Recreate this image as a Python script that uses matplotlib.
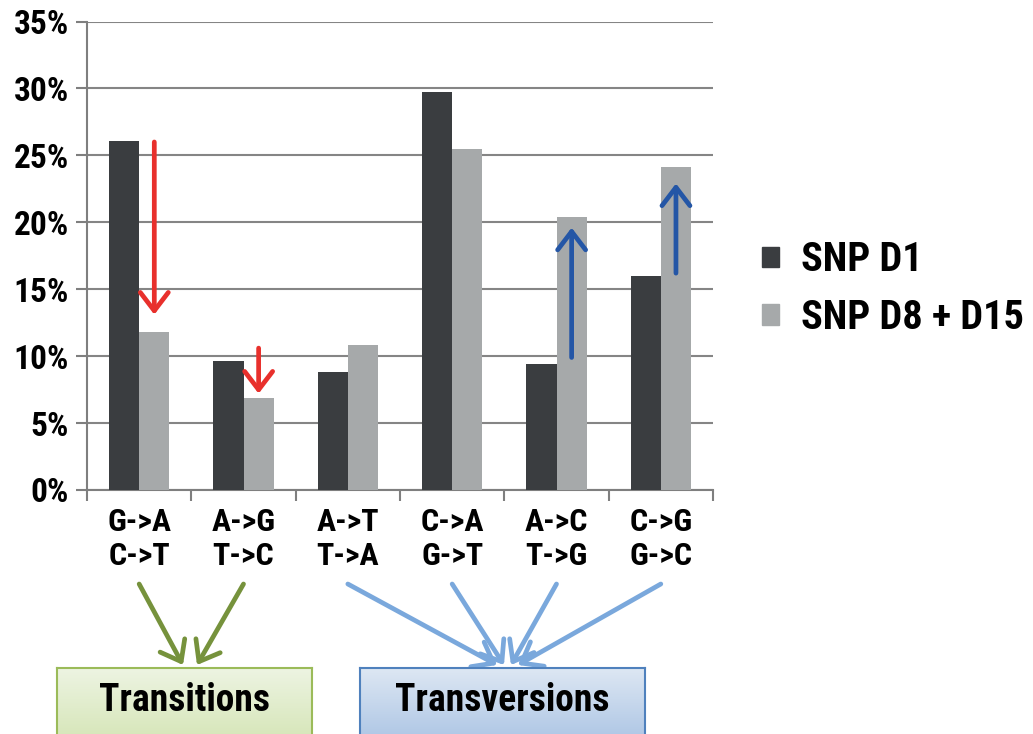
import numpy as np
import matplotlib
matplotlib.use('Agg')
import matplotlib.pyplot as plt
from matplotlib.patches import Patch
from matplotlib.colors import LinearSegmentedColormap

### data (percent of SNPs)
categories = ['G->A\nC->T', 'A->G\nT->C', 'A->T\nT->A', 'C->A\nG->T', 'A->C\nT->G', 'C->G\nG->C']
snp_d1 = [26.1, 9.6, 8.8, 29.7, 9.4, 16.0]
snp_d8_d15 = [11.8, 6.85, 10.8, 25.5, 20.4, 24.1]
series_names = ['SNP D1', 'SNP D8 + D15']

### change arrows drawn over the light bars
arrow_cats = [0, 1, 4, 5]
arrow_from = [26.0, 10.6, 9.9, 16.2]
arrow_to = [13.1, 7.2, 19.6, 22.9]
arrow_colors = ['#e8302c', '#e8302c', '#2456a6', '#2456a6']

### grouping of categories into mutation classes
group_names = ['Transitions', 'Transversions']
group_members = [[0, 1], [2, 3, 4, 5]]

plt.rcParams['font.family'] = ['Roboto Condensed', 'Liberation Sans Narrow', 'Roboto', 'DejaVu Sans']
plt.rcParams['font.weight'] = 'bold'

W, H = 1033, 734
fig = plt.figure(figsize=(W / 100, H / 100), dpi=100)
ax = fig.add_axes([87 / W, 1 - 490 / H, (713 - 87) / W, (490 - 21.5) / H])

x = np.arange(len(categories))
bw = 0.29
ax.bar(x - bw / 2, snp_d1, bw, color='#3a3d40', zorder=3, label=series_names[0])
ax.bar(x + bw / 2, snp_d8_d15, bw, color='#a6a9aa', zorder=3, label=series_names[1])

arrow_style = '->,head_length=0.55,head_width=0.42'

### arrows showing the change between the two series
for c, a, b, col in zip(arrow_cats, arrow_from, arrow_to, arrow_colors):
    ax.annotate('', xy=(c + bw / 2, b), xytext=(c + bw / 2, a),
                arrowprops=dict(arrowstyle=arrow_style, color=col,
                                lw=3.4, shrinkA=0, shrinkB=0, mutation_scale=24), zorder=5)

ax.set_xlim(-0.5, len(categories) - 0.5)
ax.set_ylim(0, 35)
ax.set_yticks(np.arange(0, 36, 5))
ax.set_yticklabels(['%d%%' % v for v in np.arange(0, 36, 5)])
ax.grid(axis='y', color='#858585', lw=1.5, zorder=0)
ax.set_axisbelow(True)

ax.set_xticks(np.arange(-0.5, len(categories), 1))
ax.set_xticklabels([])
ax.set_xticks(x, minor=True)
ax.set_xticklabels(categories, minor=True, linespacing=1.2)
ax.tick_params(axis='x', which='major', length=8, width=1.5, color='#7f7f7f')
ax.tick_params(axis='x', which='minor', length=0, pad=12, labelsize=23)
ax.tick_params(axis='y', length=8, width=1.5, color='#7f7f7f', pad=5, labelsize=24)

for s in ['top', 'right']:
    ax.spines[s].set_visible(False)
for s in ['left', 'bottom']:
    ax.spines[s].set_color('#7f7f7f')
    ax.spines[s].set_linewidth(1.5)

### legend on the right
handles = [Patch(color='#3a3d40'), Patch(color='#a6a9aa')]
fig.legend(handles, series_names, loc='center left', bbox_to_anchor=(762 / W, 1 - 289 / H),
           frameon=False, fontsize=29, handlelength=0.42, handleheight=0.42,
           handletextpad=0.55, labelspacing=0.48, borderpad=0, borderaxespad=0)

### boxes for the two classes
boxes = [(57, 312, '#edf4e2', '#d3e4b3', '#9bbb59'),
         (360, 645, '#dde7f3', '#a8c2e3', '#4f81bd')]
grad = np.linspace(0, 1, 100).reshape(-1, 1)
for (x0, x1, c_top, c_bot, edge), name in zip(boxes, group_names):
    bax = fig.add_axes([x0 / W, -0.02, (x1 - x0) / W, (734 - 668) / H + 0.02])
    cmap = LinearSegmentedColormap.from_list('g', [c_top, c_bot])
    bax.imshow(grad, cmap=cmap, aspect='auto', extent=[0, 1, 0, 1])
    bax.set_xticks([])
    bax.set_yticks([])
    for s in bax.spines.values():
        s.set_color(edge)
        s.set_linewidth(1.5)
    bax.text(0.5, 0.6, name, ha='center', va='center', fontsize=27, transform=bax.transAxes)

### arrows from the category labels to the class boxes
arrow_cols = ['#76923c', '#7aa8dc']
tips = [[183, 197], [497, 504, 511, 518]]
for members, col, tip in zip(group_members, arrow_cols, tips):
    for m, tx in zip(members, tip):
        ax.annotate('', xy=(tx / W, 1 - 665 / H), xycoords='figure fraction',
                    xytext=(m, 1 - 584 / H), textcoords=('data', 'figure fraction'),
                    arrowprops=dict(arrowstyle=arrow_style, color=col,
                                    lw=3.4, shrinkA=0, shrinkB=0, mutation_scale=24),
                    annotation_clip=False)

plt.savefig('out.png', dpi=100)
